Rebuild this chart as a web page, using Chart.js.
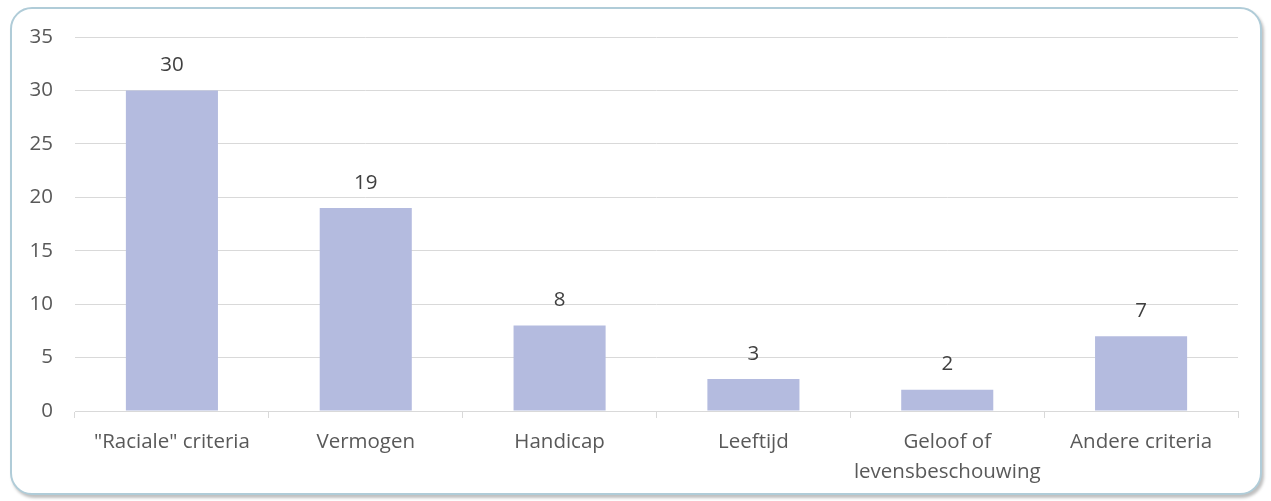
<!DOCTYPE html>
<html>
<head>
<meta charset="utf-8">
<script src="https://cdn.jsdelivr.net/npm/chart.js@4.4.0/dist/chart.umd.min.js"></script>
<style>
  body { margin: 0; background: #fff; }
  #frame {
    position: absolute; left: 10px; top: 7px; width: 1248px; height: 484px;
    border: 2px solid #b0ccd8; border-radius: 22px;
    box-shadow: 2px 3px 3px rgba(0,0,0,0.25);
    background: #fff;
  }
  #wrap { position: absolute; left: 0; top: 0; width: 1271px; height: 501px; }
</style>
</head>
<body>
<div id="frame"></div>
<div id="wrap"><canvas id="myChart" width="1271" height="501"></canvas></div>
<script>
const categorieen = ['"Raciale" criteria', 'Vermogen', 'Handicap', 'Leeftijd', ['Geloof of', 'levensbeschouwing'], 'Andere criteria'];
const aantallen = [30, 19, 8, 3, 2, 7];
const yTicks = [0, 5, 10, 15, 20, 25, 30, 35];

const ctx = document.getElementById('myChart').getContext('2d');
const lettertype = '"Open Sans", sans-serif';

// waarden boven de balken schrijven
const labelsBoven = {
  id: 'labelsBoven',
  afterDatasetsDraw(chart) {
    const c = chart.ctx;
    const meta = chart.getDatasetMeta(0);
    c.save();
    c.font = '20.5px ' + lettertype;
    c.fillStyle = '#404040';
    c.textAlign = 'center';
    c.textBaseline = 'middle';
    meta.data.forEach((bar, i) => {
      c.fillText(aantallen[i], bar.x, bar.y - 25);
    });
    c.restore();
  }
};

const myChart = new Chart(ctx, {
  type: 'bar',
  data: {
    labels: categorieen,
    datasets: [{
      data: aantallen,
      backgroundColor: '#b4bbdf',
      barPercentage: 0.475,
      categoryPercentage: 1
    }]
  },
  options: {
    responsive: false,
    animation: false,
    layout: { padding: { left: 0, right: 33, top: 37, bottom: 0 } },
    plugins: { legend: { display: false }, tooltip: { enabled: false } },
    scales: {
      y: {
        min: 0, max: 35,
        afterBuildTicks: (axis) => { axis.ticks = yTicks.map(v => ({ value: v })); },
        afterFit: (axis) => { axis.width = 75; },
        border: { display: false },
        grid: { color: '#d9d9d9', drawTicks: false },
        ticks: {
          padding: 22,
          color: '#595959',
          font: { family: lettertype, size: 20.5 }
        }
      },
      x: {
        afterFit: (axis) => { axis.height = 90; },
        border: { color: '#d9d9d9' },
        grid: { drawOnChartArea: false, color: '#d9d9d9', tickLength: 7 },
        ticks: {
          padding: 10,
          maxRotation: 0,
          color: '#595959',
          font: { family: lettertype, size: 20.5, lineHeight: 1.42 }
        }
      }
    }
  },
  plugins: [labelsBoven]
});
</script>
</body>
</html>
